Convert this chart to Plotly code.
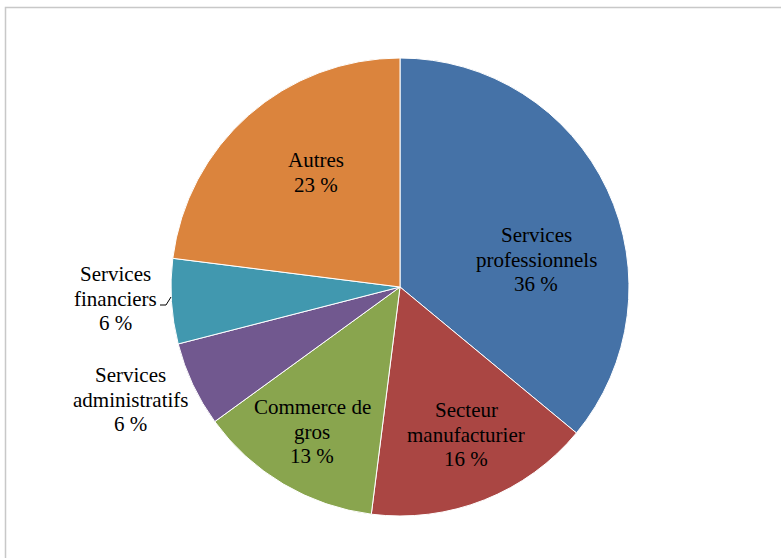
import plotly.graph_objects as go

# Répartition par secteur (%)
secteurs = [
    "Services professionnels",
    "Secteur manufacturier",
    "Commerce de gros",
    "Services administratifs",
    "Services financiers",
    "Autres",
]
parts = [36, 16, 13, 6, 6, 23]
couleurs = ["#4572A7", "#AA4643", "#89A54E", "#71588F", "#4198AF", "#DB843D"]

# Libellés découpés en lignes
lignes = [
    ["Services", "professionnels"],
    ["Secteur", "manufacturier"],
    ["Commerce de", "gros"],
    ["Services", "administratifs"],
    ["Services", "financiers"],
    ["Autres"],
]

W, H = 781, 558
CX, CY, R = 400, 287, 229

# Centre (x, y de la première ligne) de chaque bloc d'étiquette, en pixels
pos_etiquettes = [
    (536, 235),
    (466, 410),
    (312, 407),
    (130, 375),
    (115, 274),
    (316, 160),
]
INTERLIGNE = 24.6
POLICE = "Liberation Serif"


def px(x):
    return x / W


def py(y):
    return 1 - y / H


fig = go.Figure(
    go.Pie(
        labels=secteurs,
        values=parts,
        sort=False,
        direction="clockwise",
        rotation=0,
        textinfo="none",
        hoverinfo="label+percent",
        marker=dict(colors=couleurs, line=dict(color="white", width=1)),
        domain=dict(x=[px(CX - R), px(CX + R)], y=[py(CY + R), py(CY - R)]),
        showlegend=False,
    )
)

annotations = []
for lbl, val, (x, y0) in zip(lignes, parts, pos_etiquettes):
    for i, t in enumerate(lbl + [f"{val} %"]):
        annotations.append(
            dict(
                x=px(x), y=py(y0 + i * INTERLIGNE),
                xref="paper", yref="paper",
                text=t, showarrow=False,
                xanchor="center", yanchor="middle",
                font=dict(family=POLICE, size=21, color="black"),
            )
        )

shapes = [
    # cadre du graphique
    dict(type="rect", xref="paper", yref="paper",
         x0=px(5.5), x1=px(W + 10), y0=py(H + 10), y1=py(7.5),
         line=dict(color="#C8C8C8", width=1.5), fillcolor="rgba(0,0,0,0)"),
    # trait de rappel « Services financiers »
    dict(type="path", xref="paper", yref="paper",
         path=f"M {px(160)} {py(305)} L {px(166)} {py(305)} L {px(171)} {py(297)}",
         line=dict(color="black", width=1)),
]

fig.update_layout(
    width=W, height=H,
    margin=dict(l=0, r=0, t=0, b=0),
    paper_bgcolor="white",
    plot_bgcolor="white",
    annotations=annotations,
    shapes=shapes,
    font=dict(family=POLICE, color="black"),
)

fig.write_html("out.html")
